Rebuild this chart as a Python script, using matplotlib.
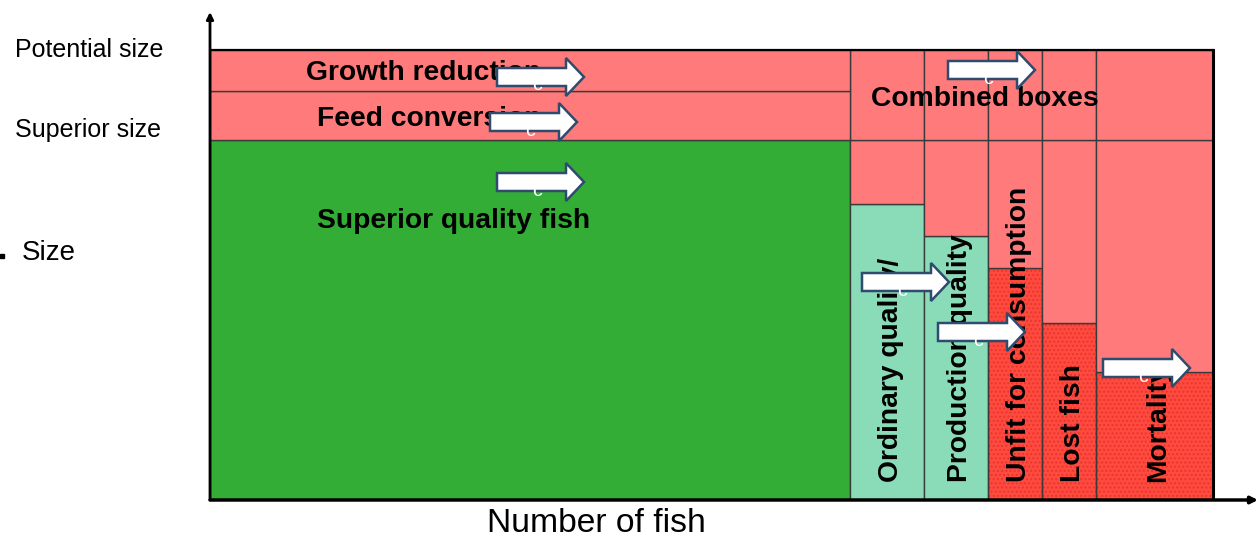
import numpy as np
import matplotlib.pyplot as plt
from matplotlib.patches import FancyArrow

plt.rcParams['font.family'] = ['Liberation Sans', 'DejaVu Sans']

# columns along the fish axis (arbitrary units)
labels = ['Superior quality fish', 'Ordinary quality/', 'Production quality',
          'Unfit for consumption', 'Lost fish', 'Mortality']
widths = [640, 74, 64, 54, 54, 117]
heights = [360, 296, 264, 232, 177, 128]
potential_size = 450
feed_line = 409
superior_size = 360

light_red = '#ff7b7b'
dark_red = '#ff4a40'
green = '#34ad36'
mint = '#8adcb9'
col_colors = [green, mint, mint, dark_red, dark_red, dark_red]

lefts = np.concatenate([[0], np.cumsum(widths)[:-1]])
total = sum(widths)

fig = plt.figure(figsize=(12.58, 5.39), dpi=100)
ax = fig.add_axes([210/1258, 39/539, 1048/1258, 488/539])
ax.set_xlim(0, 1048)
ax.set_ylim(0, 488)
ax.axis('off')

edge = '#3a3a3a'

# lower boxes
for i in range(len(widths)):
    if col_colors[i] == dark_red:
        ax.bar(lefts[i], heights[i], widths[i], align='edge', color=dark_red,
               edgecolor='#e8362c', hatch='....', linewidth=0, zorder=1)
        ax.bar(lefts[i], heights[i], widths[i], align='edge', fill=False,
               edgecolor=edge, linewidth=1, zorder=2)
    else:
        ax.bar(lefts[i], heights[i], widths[i], align='edge', color=col_colors[i],
               edgecolor=edge, linewidth=1, zorder=2)

# combined (upper) boxes in the loss columns
for i in range(1, len(widths)):
    ax.bar(lefts[i], superior_size - heights[i], widths[i], bottom=heights[i],
           align='edge', color=light_red, edgecolor=edge, linewidth=1, zorder=2)
    ax.bar(lefts[i], potential_size - superior_size, widths[i], bottom=superior_size,
           align='edge', color=light_red, edgecolor=edge, linewidth=1, zorder=2)

# growth reduction / feed conversion bands over the superior column
ax.bar(0, feed_line - superior_size, widths[0], bottom=superior_size, align='edge',
       color=light_red, edgecolor=edge, linewidth=1, zorder=2)
ax.bar(0, potential_size - feed_line, widths[0], bottom=feed_line, align='edge',
       color=light_red, edgecolor=edge, linewidth=1, zorder=2)

# outline
ax.plot([0, total], [potential_size, potential_size], color='black', lw=1.6, zorder=3)
ax.plot([total, total], [0, potential_size], color='black', lw=2.2, zorder=3)

# axes with arrows
ax.annotate('', xy=(1048, 0), xytext=(0, 0),
            arrowprops=dict(arrowstyle='-|>', color='black', lw=2.5,
                            mutation_scale=10, shrinkA=0, shrinkB=0),
            annotation_clip=False, zorder=5)
ax.annotate('', xy=(0, 488), xytext=(0, 0),
            arrowprops=dict(arrowstyle='-|>', color='black', lw=2,
                            mutation_scale=10, shrinkA=0, shrinkB=0),
            annotation_clip=False, zorder=5)

# axis texts
ax.text(-195, potential_size, 'Potential size', fontsize=18, va='center', ha='left')
ax.text(-195, 370, 'Superior size', fontsize=18, va='center', ha='left')
ax.text(-188, 247, 'Size', fontsize=20, va='center', ha='left')
ax.plot([-208], [244], marker='s', ms=3, color='black', clip_on=False)
ax.text(386, -24, 'Number of fish', fontsize=24.2, va='center', ha='center')

bold = dict(fontsize=20.3, fontweight='bold', zorder=4)
ax.text(96, 427.5, 'Growth reduction', va='center', ha='left', **bold)
ax.text(107, 380.5, 'Feed conversion', va='center', ha='left', **bold)
ax.text(107, 279.5, labels[0], va='center', ha='left', **bold)
ax.text(661, 400.5, 'Combined boxes', va='center', ha='left', **bold)
for i in range(1, len(widths)):
    ax.text(lefts[i] + widths[i] / 2 + 4, 18, labels[i], rotation=90,
            ha='center', va='bottom', **bold)

# block arrows (tail x, centre y)
arrows = [(287, 423), (280, 378), (287, 318), (738, 430),
          (652, 218), (728, 168), (893, 132)]
for x, y in arrows:
    ax.add_patch(FancyArrow(x, y, 87, 0, width=18, head_width=38, head_length=18,
                            length_includes_head=True, facecolor='white',
                            edgecolor='#2f4b6e', lw=1.8, zorder=6))
    ax.text(x + 40, y - 9, 'c', color='white', fontsize=14, ha='center',
            va='center', zorder=7)

fig.savefig('out.png', dpi=100)
